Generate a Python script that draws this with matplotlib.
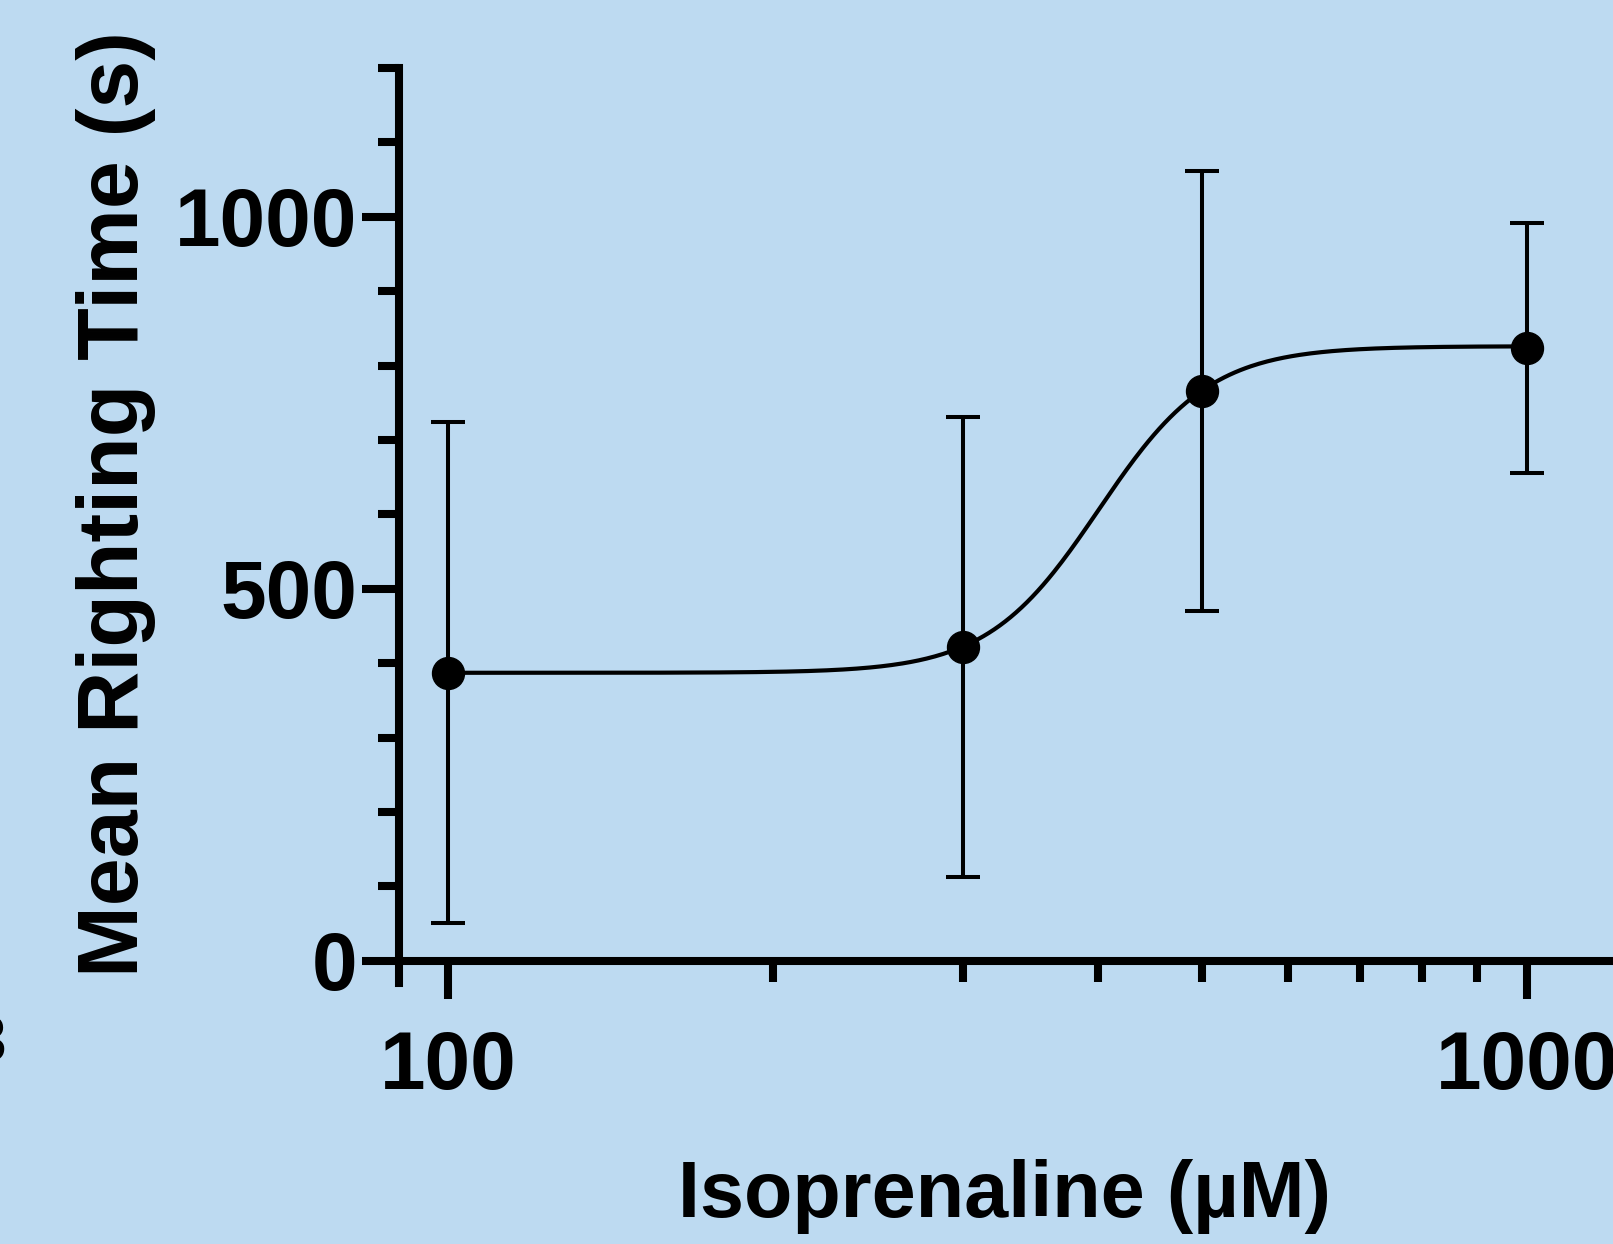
import numpy as np
import matplotlib
matplotlib.use("Agg")
import matplotlib.pyplot as plt
from matplotlib.ticker import FixedLocator, NullFormatter, FixedFormatter

# ---- data ----
conc = [100, 300, 500, 1000]
mean_time = [387, 422, 766, 823]
sd_time = [337, 309, 296, 168]

# fitted sigmoid (4-parameter logistic) parameters
fit_bottom = 387
fit_top = 826
fit_ec50 = 401
fit_hill = 8.4

x_ticks = [100, 1000]
x_ticklabels = ["100", "1000"]
x_minor = [200, 300, 400, 500, 600, 700, 800, 900]
y_ticks = [0, 500, 1000]
y_minor = [100, 200, 300, 400, 600, 700, 800, 900, 1100, 1200]

BG = "#BDDAF1"
FONT = ["Liberation Sans", "DejaVu Sans"]
plt.rcParams["font.family"] = FONT
plt.rcParams["font.weight"] = "bold"

W, H = 1613, 1244
fig = plt.figure(figsize=(W / 100, H / 100), dpi=100, facecolor=BG)
ax = fig.add_axes([399 / W, 1 - 983 / H, 1 - 399 / W, (983 - 68) / H])
ax.set_facecolor(BG)

ax.set_xscale("log")
ax.set_xlim(90, 1202)
ax.set_ylim(-30, 1200)

# fitted curve
xc = np.logspace(np.log10(100), np.log10(1000), 400)
yc = fit_bottom + (fit_top - fit_bottom) / (1 + 10 ** ((np.log10(fit_ec50) - np.log10(xc)) * fit_hill))
ax.plot(xc, yc, color="black", lw=3.0, zorder=3)

ax.errorbar(conc, mean_time, yerr=sd_time, fmt="o", color="black", ms=23,
            elinewidth=2.9, capsize=12, capthick=2.9, zorder=4)

for s in ["top", "right"]:
    ax.spines[s].set_visible(False)
ax.spines["bottom"].set_position(("data", 0))
ax.spines["bottom"].set_linewidth(5.8)
ax.spines["left"].set_linewidth(5.8)
ax.spines["bottom"].set_capstyle("butt")

ax.xaxis.set_major_locator(FixedLocator(x_ticks))
ax.xaxis.set_major_formatter(FixedFormatter(x_ticklabels))
ax.xaxis.set_minor_locator(FixedLocator(x_minor))
ax.xaxis.set_minor_formatter(NullFormatter())
ax.yaxis.set_major_locator(FixedLocator(y_ticks))
ax.yaxis.set_minor_locator(FixedLocator(y_minor))

ax.tick_params(axis="both", which="major", length=27, width=5.8, labelsize=59)
ax.tick_params(axis="both", which="minor", length=15, width=5.8)
ax.tick_params(axis="x", which="major", pad=23)
ax.tick_params(axis="y", which="major", pad=3)
for lab in ax.get_xticklabels() + ax.get_yticklabels():
    lab.set_fontweight("bold")

fig.text(1005 / W, 1 - 1197 / H, "Isoprenaline (µM)", ha="center", va="center",
         fontsize=57, fontweight="bold")
fig.text(116 / W, 1 - 504 / H, "Mean Righting Time (s)", ha="center", va="center",
         rotation=90, fontsize=62, fontweight="bold")

# partially visible panel label at left edge
fig.text(0.004, 1 - 1044 / H, "3", ha="right", va="center", fontsize=46, fontweight="bold")

fig.savefig("out.png", dpi=100, facecolor=BG)
